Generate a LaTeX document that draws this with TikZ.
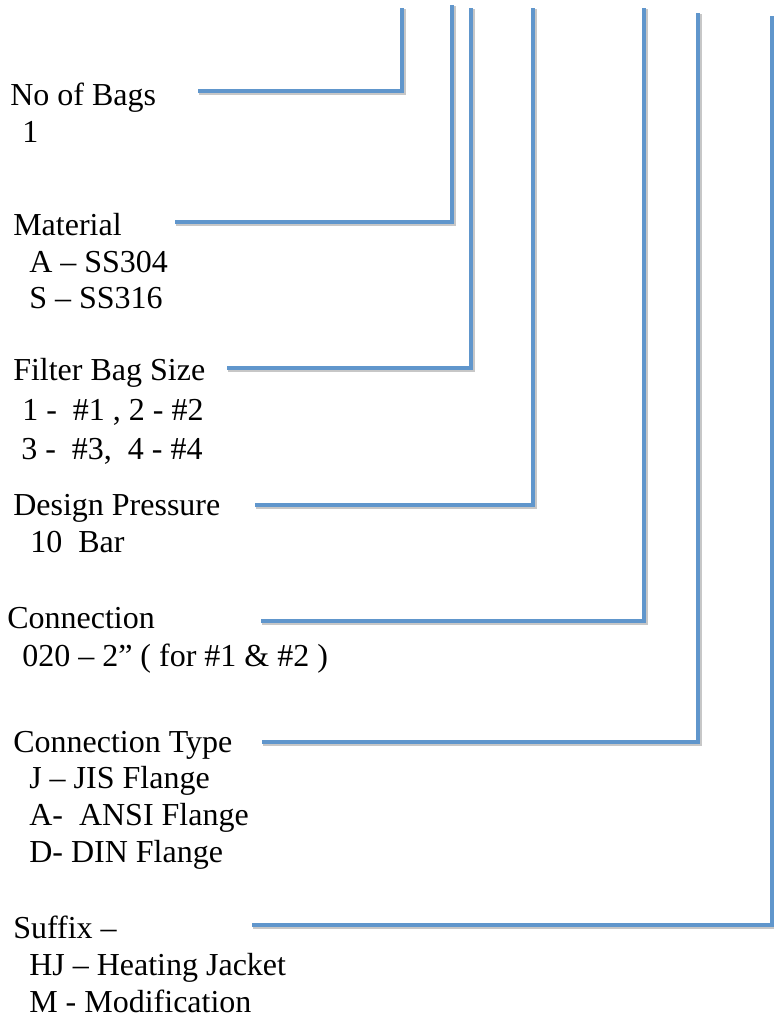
\documentclass[tikz,border=0pt]{standalone}
\usepackage{fontspec}
\setmainfont{Liberation Serif}
\usetikzlibrary{calc}
\definecolor{leadblue}{RGB}{96,150,204}
\tikzset{
  txt/.style={anchor=base west, inner sep=0pt, font=\fontsize{24}{28}\selectfont},
  lead/.style={draw=leadblue, line width=3.6pt, line join=miter,
    preaction={draw=black!22, line width=3.6pt, transform canvas={shift={(0.9pt,-1.1pt)}}}}
}

\begin{document}
\begin{tikzpicture}[x=0.75pt, y=-0.75pt]
        \useasboundingbox (0,0) rectangle (774,1017);
        % code fields
        \node[txt] (bags) at (10,105) {No of Bags};
        \node[txt] (bagsA) at (22,142) {1};
        \node[txt] (mat) at (13,235) {Material};
        \node[txt] (matA) at (29,272) {A – SS304};
        \node[txt] (matB) at (29,308) {S – SS316};
        \node[txt] (size) at (13,380) {Filter Bag Size};
        \node[txt] (sizeA) at (22,420) {1 -\ \ \#1 , 2 - \#2};
        \node[txt] (sizeB) at (21,459) {3 -\ \ \#3,\ \ 4 - \#4};
        \node[txt] (press) at (13,515) {Design Pressure};
        \node[txt] (pressA) at (30,552) {10\ \ Bar};
        \node[txt] (conn) at (7,628) {Connection};
        \node[txt] (connA) at (22,666) {020 – 2” ( for \#1 \& \#2 )};
        \node[txt] (ctype) at (13,752) {Connection Type};
        \node[txt] (ctypeA) at (29,788) {J – JIS Flange};
        \node[txt] (ctypeB) at (29,825) {A-\ \ ANSI Flange};
        \node[txt] (ctypeC) at (29,862) {D- DIN Flange};
        \node[txt] (suf) at (13,938) {Suffix –};
        \node[txt] (sufA) at (29,975) {HJ – Heating Jacket};
        \node[txt] (sufB) at (29,1012) {M - Modification};
        % leader lines
        \coordinate (bagsL) at (198,91);   \coordinate (bagsT) at (402,8);
        \coordinate (matL) at (175,222);   \coordinate (matT) at (452,5);
        \coordinate (sizeL) at (227,368);  \coordinate (sizeT) at (471,8);
        \coordinate (pressL) at (255,505); \coordinate (pressT) at (533,8);
        \coordinate (connL) at (261,621);  \coordinate (connT) at (644,8);
        \coordinate (ctypeL) at (262,742); \coordinate (ctypeT) at (698,13);
        \coordinate (sufL) at (252,925);   \coordinate (sufT) at (772,16);
        \draw[lead] (bagsL) -| (bagsT);
        \draw[lead] (matL) -| (matT);
        \draw[lead] (sizeL) -| (sizeT);
        \draw[lead] (pressL) -| (pressT);
        \draw[lead] (connL) -| (connT);
        \draw[lead] (ctypeL) -| (ctypeT);
        \draw[lead] (sufL) -| (sufT);
    \end{tikzpicture}
\end{document}
